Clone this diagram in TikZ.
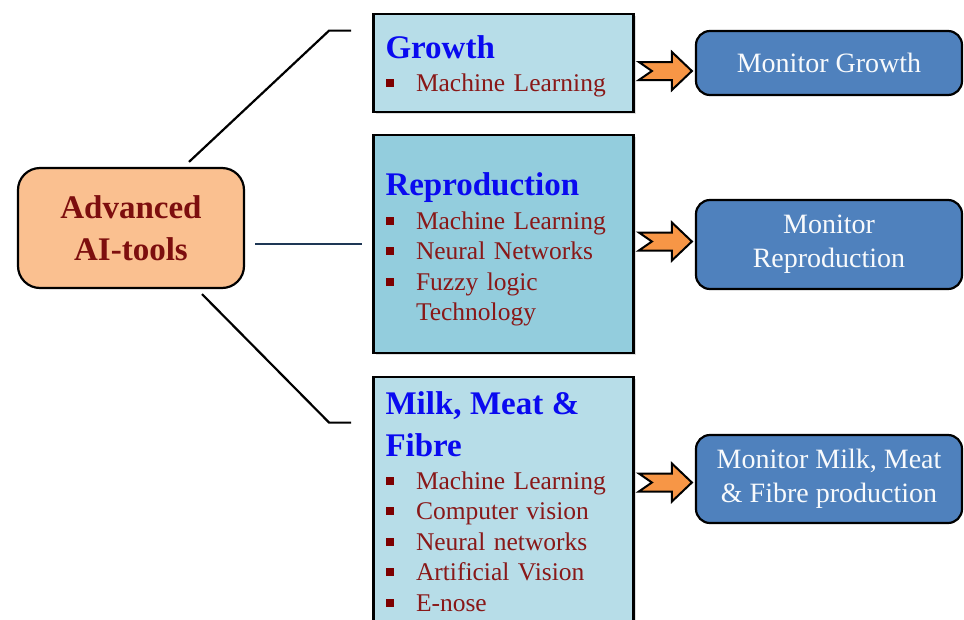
\documentclass[tikz,border=0pt]{standalone}
\usepackage{fontspec}
\setmainfont{Liberation Serif}
\usepackage{tikz}
\usetikzlibrary{positioning, calc, shadows}
\definecolor{hdblue}{RGB}{10,10,240}
\definecolor{itred}{RGB}{137,24,24}
\definecolor{bulred}{RGB}{125,0,0}
\definecolor{advred}{RGB}{125,14,14}
\definecolor{boxlight}{RGB}{183,221,232}
\definecolor{boxdark}{RGB}{147,205,221}
\definecolor{advfill}{RGB}{250,192,144}
\definecolor{monfill}{RGB}{79,129,189}
\definecolor{arrfill}{RGB}{247,150,70}
\definecolor{navy}{RGB}{30,55,85}
\newcommand{\hd}[2][0pt]{%
{\fontsize{33}{42}\selectfont\bfseries\color{hdblue}\rule{0pt}{#1}#2}}
\newcommand{\itm}[1]{%
\makebox[30.5pt][l]{\textcolor{bulred}{\rule[4.5pt]{8pt}{8pt}}}#1}
\newcommand{\fatarrow}[3]{
    \coordinate (tl) at ($(#1.east |- #2.center)+(4,#3)$);
    \draw[fatarr] ($(tl)+(0,-9)$) -- ++(13,9) -- ++(-13,9) -- ++(33,0) -- ++(0,10) -- ++(20,-19) -- ++(-20,-19) -- ++(0,10) -- cycle;
}
\tikzset{
    leftbox/.style={draw, line width=2.8pt, text width=236pt, inner xsep=12pt, inner ysep=0pt, align=left,
        font=\fontsize{25.5}{30.5}\selectfont, text=itred,
        drop shadow={opacity=.25, shadow xshift=2pt, shadow yshift=-2pt}},
    monbox/.style={draw, line width=2.2pt, rounded corners=14pt, fill=monfill, text=white!96!monfill,
        minimum width=266pt, align=center, font=\fontsize{28}{34}\selectfont},
    advbox/.style={draw, line width=2.2pt, rounded corners=22pt, fill=advfill, text=advred,
        minimum width=226pt, minimum height=120pt, align=center, font=\fontsize{33}{42}\selectfont\bfseries},
    link/.style={line width=2.2pt},
    midlink/.style={line width=2.4pt, draw=navy},
    fatarr/.style={draw, fill=arrfill, line width=2pt, line join=miter}
}
\begin{document}
\begin{tikzpicture}[x=1pt, y=-1pt]
                \useasboundingbox (0,0) rectangle (964,619);
                \clip (0,0) rectangle (964,619);
                \node[advbox] (adv) at (131,228) {Advanced\\AI-tools};
                \node[leftbox, fill=boxlight, minimum height=98] (grow) at (503.5,63) {\hd[29pt]{Growth}\\[3pt]\itm{Machine Learning}};
                \node[leftbox, fill=boxdark, minimum height=218] (repro) at (503.5,244) {\hd[33pt]{Reproduction}\\[3.5pt]\itm{Machine Learning}\\\itm{Neural Networks}\\\itm{Fuzzy logic}\\\hspace*{30.5pt}Technology};
                \node[leftbox, fill=boxlight, minimum height=249] (milk) at (503.5,501.5) {\hd[22pt]{Milk, Meat \&}\\[11.5pt]\hd{Fibre}\\[2.5pt]\itm{Machine Learning}\\\itm{Computer vision}\\\itm{Neural networks}\\\itm{Artificial Vision}\\\itm{E-nose}};
                \node[monbox, minimum height=64] (mgrow) at (829,63) {Monitor Growth};
                \node[monbox, minimum height=89] (mrepro) at (829,244.5) {Monitor\\Reproduction};
                \node[monbox, minimum height=88] (mmilk) at (829,479) {Monitor Milk, Meat\\\& Fibre production};
                \coordinate[left=21pt of grow.north west, yshift=-18pt] (gend);
                \coordinate[left=21pt of milk.north west, yshift=-47pt] (mend);
                \draw[link] ([xshift=58pt,yshift=5pt]adv.north) -- ([xshift=-22pt]gend) -- (gend);
                \draw[midlink] ([xshift=10pt]adv.east |- repro.west) -- ([xshift=-10pt]repro.west);
                \draw[link] ([xshift=71pt,yshift=-5pt]adv.south) -- ([xshift=-22pt]mend) -- (mend);
                \fatarrow{grow}{mgrow}{8}
                \fatarrow{repro}{mrepro}{-3}
                \fatarrow{milk}{mmilk}{3.5}
            \end{tikzpicture}
\end{document}
